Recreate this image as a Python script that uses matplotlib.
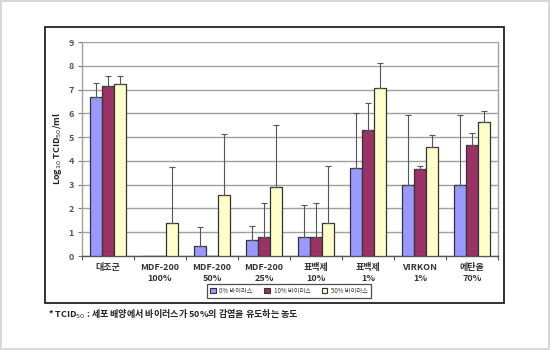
import matplotlib
matplotlib.use("Agg")
import matplotlib.pyplot as plt
import numpy as np
from matplotlib.patches import Rectangle, Patch

plt.rcParams['font.family'] = ['Noto Sans CJK KR', 'DejaVu Sans']

categories = ["대조군", "MDF-200\n100%", "MDF-200\n50%", "MDF-200\n25%",
              "표백제\n10%", "표백제\n1%", "VIRKON\n1%", "에탄올\n70%"]
series_names = ["0% 바이러스", "10% 바이러스", "50% 바이러스"]

virus_0 = [6.67, 0.0, 0.43, 0.67, 0.79, 3.68, 2.98, 2.98]
virus_10 = [7.13, 0.0, 0.0, 0.81, 0.80, 5.32, 3.64, 4.65]
virus_50 = [7.25, 1.37, 2.56, 2.89, 1.37, 7.07, 4.59, 5.62]

# upper end of each error bar
err_top_0 = [7.27, 0.0, 1.22, 1.26, 2.16, 6.00, 5.92, 5.92]
err_top_10 = [7.58, 0.0, 0.0, 2.24, 2.24, 6.44, 3.78, 5.18]
err_top_50 = [7.55, 3.75, 5.13, 5.53, 3.78, 8.12, 5.08, 6.10]

colors = ["#9999FF", "#993366", "#FFFFCC"]

fig = plt.figure(figsize=(5.5, 3.5), dpi=100)
fig.patch.set_facecolor("white")
fig.patch.set_edgecolor("#d8d8d8")
fig.patch.set_linewidth(1.5)

# outer chart frame
fig.patches.append(Rectangle((45 / 550, 1 - 303 / 350), (504 - 45) / 550, (303 - 27) / 350,
                             transform=fig.transFigure, fill=False, edgecolor="#222222",
                             linewidth=1.3, zorder=0))

ax = fig.add_axes([82 / 550, 1 - 256 / 350, (498 - 82) / 550, (256 - 42) / 350])

x = np.arange(len(categories))
w = 0.23
series = [virus_0, virus_10, virus_50]
tops = [err_top_0, err_top_10, err_top_50]
for i, (vals, top, c) in enumerate(zip(series, tops, colors)):
    vals = np.array(vals)
    up = np.array(top) - vals
    low = np.zeros_like(up)
    ax.bar(x + (i - 1) * w, vals, width=w, color=c, edgecolor="#333333",
           linewidth=0.9, zorder=3)
    mask = up > 0
    ax.errorbar((x + (i - 1) * w)[mask], vals[mask], yerr=[low[mask], up[mask]],
                fmt="none", ecolor="#555555", elinewidth=0.8, capsize=2.2,
                capthick=0.8, zorder=4)

ax.set_xlim(-0.5, len(categories) - 0.5)
ax.set_ylim(0, 9)
ax.set_yticks(range(0, 10))
ax.yaxis.grid(True, color="#a0a0a0", linewidth=1.0, zorder=0)
ax.set_axisbelow(True)

ax.set_xticks(x)
ax.set_xticklabels(categories, fontsize=6.5, fontweight="bold", color="#333333",
                   linespacing=1.3)
ax.tick_params(axis="x", length=0, pad=5)
ax.set_xticks(np.arange(-0.5, len(categories), 1.0), minor=True)
ax.tick_params(axis="x", which="minor", length=3, width=0.8, color="#555555")
ax.tick_params(axis="y", length=3, width=0.8, color="#777777", labelsize=6.5,
               labelcolor="#555555", pad=3)
for lab in ax.get_yticklabels():
    lab.set_fontweight("bold")

for side in ["left", "right"]:
    ax.spines[side].set_color("#a0a0a0")
    ax.spines[side].set_linewidth(1.0)
ax.spines["top"].set_visible(False)
ax.spines["bottom"].set_color("#555555")
ax.spines["bottom"].set_linewidth(1.0)

ax.set_ylabel("Log$_{10}$ TCID$_{50}$/ml", fontsize=6.5, fontweight="bold",
              color="#222222", labelpad=3)

handles = [Patch(facecolor=c, edgecolor="#333333", linewidth=0.8) for c in colors]
leg = fig.legend(handles, series_names, loc="center", ncol=3,
                 bbox_to_anchor=(289 / 550, 1 - 291 / 350), fontsize=4.5,
                 frameon=True, fancybox=False, handlelength=0.9, handleheight=0.9,
                 handletextpad=0.6, columnspacing=1.8, borderpad=0.5)
leg.get_frame().set_edgecolor("#222222")
leg.get_frame().set_linewidth(0.9)
for t in leg.get_texts():
    t.set_color("#333333")

fig.text(48 / 550, 1 - 314 / 350,
         "* TCID$_{50}$ : 세포 배양에서 바이러스가 50%의 감염을 유도하는 농도",
         fontsize=6.5, fontweight="bold", color="#222222", va="center", ha="left")

fig.savefig("out.png", dpi=100)
